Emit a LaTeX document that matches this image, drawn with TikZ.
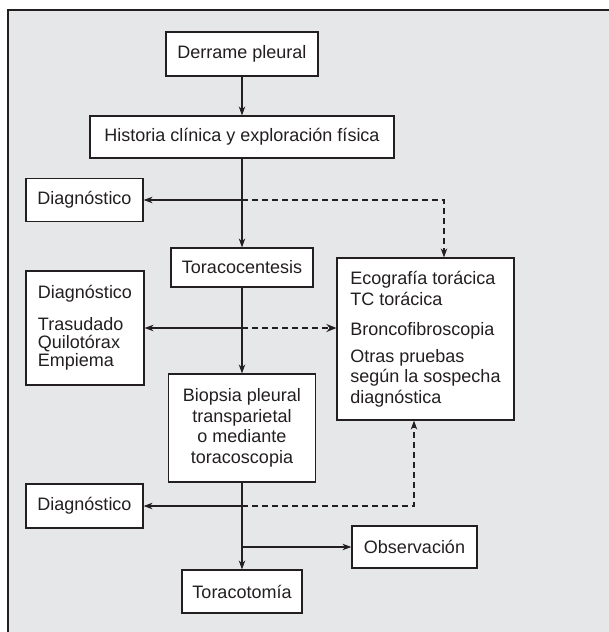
\documentclass[tikz,border=0pt]{standalone}
\usepackage{fontspec}
\setmainfont{Liberation Sans}
\usetikzlibrary{arrows.meta}
\definecolor{bgpanel}{HTML}{E6E7E9}
\definecolor{ink}{HTML}{231F20}
\begin{document}
\begin{tikzpicture}[x=1pt,y=-1pt,
  box/.style={draw=ink, line width=1.2pt, fill=white, inner sep=0pt, text=ink,
    font=\fontsize{18}{20.5}\selectfont},
  conn/.style={draw=ink, line width=1.1pt},
  tipA/.style={-{Stealth[length=9pt,width=6.5pt]}},
  arr/.style={conn, tipA},
  dsh/.style={conn, dash pattern=on 6pt off 4pt, tipA},
  dshbold/.style={draw=ink, line width=2pt, dash pattern=on 6pt off 4pt,
    -{Stealth[length=10pt,width=8pt]}},
]
\useasboundingbox (0,0) rectangle (609,632);
\fill[white] (0,0) rectangle (609,632);
\fill[bgpanel] (8,10) rectangle (609,632);
\draw[ink, line width=1.3pt] (8,632) -- (8,10) -- (609,10);

\node[box, minimum width=152pt, minimum height=44pt] (derrame) at (242,54) {Derrame pleural};
\node[box, minimum width=304pt, minimum height=42pt] (historia) at (242,137) {Historia clínica y exploración física};
\node[box, minimum width=117pt, minimum height=43pt] (diag1) at (84.5,200) {Diagnóstico};
\node[box, minimum width=142pt, minimum height=39pt] (toraco) at (242,267.5) {Toracocentesis};
\node[box, minimum width=118pt, minimum height=114pt, align=left,
  font=\fontsize{18}{18}\selectfont] (diag2) at (85,328)
  {Diagnóstico\\[14pt]Trasudado\\Quilotórax\\Empiema};
\node[box, minimum width=177pt, minimum height=162pt, align=left] (eco) at (425.5,339)
  {Ecografía torácica\\TC torácica\\[9.5pt]Broncofibroscopia\\[6.5pt]Otras pruebas\\según la sospecha\\diagnóstica};
\node[box, minimum width=147pt, minimum height=108pt, align=center] (biopsia) at (242,428)
  {Biopsia pleural\\transparietal\\o mediante\\toracoscopia};
\node[box, minimum width=117pt, minimum height=44pt] (diag3) at (84.5,506) {Diagnóstico};
\node[box, minimum width=125pt, minimum height=42pt] (obs) at (414.5,547) {Observación};
\node[box, minimum width=120pt, minimum height=43pt] (toracotomia) at (242,591.5) {Toracotomía};

\coordinate (j1) at (242,200);
\coordinate (k1) at (444,200);
\coordinate (j2) at (242,328);
\coordinate (j3) at (242,506);
\coordinate (k3) at (414,506);
\coordinate (j4) at (242,547);

\draw[arr] (derrame) -- (historia);
\draw[arr] (historia) -- (toraco);
\draw[arr] (j1) -- (diag1);
\draw[dsh] (j1) -- (k1) -- (k1 |- eco.north);
\draw[arr] (toraco) -- (biopsia);
\draw[arr] (j2) -- (diag2);
\draw[dshbold] (j2) -- (j2 -| eco.west);
\draw[arr] (biopsia) -- (toracotomia);
\draw[arr] (j3) -- (diag3);
\draw[dsh] (j3) -- (k3) -- (k3 |- eco.south);
\draw[arr] (j4) -- (obs);
\end{tikzpicture}
\end{document}
